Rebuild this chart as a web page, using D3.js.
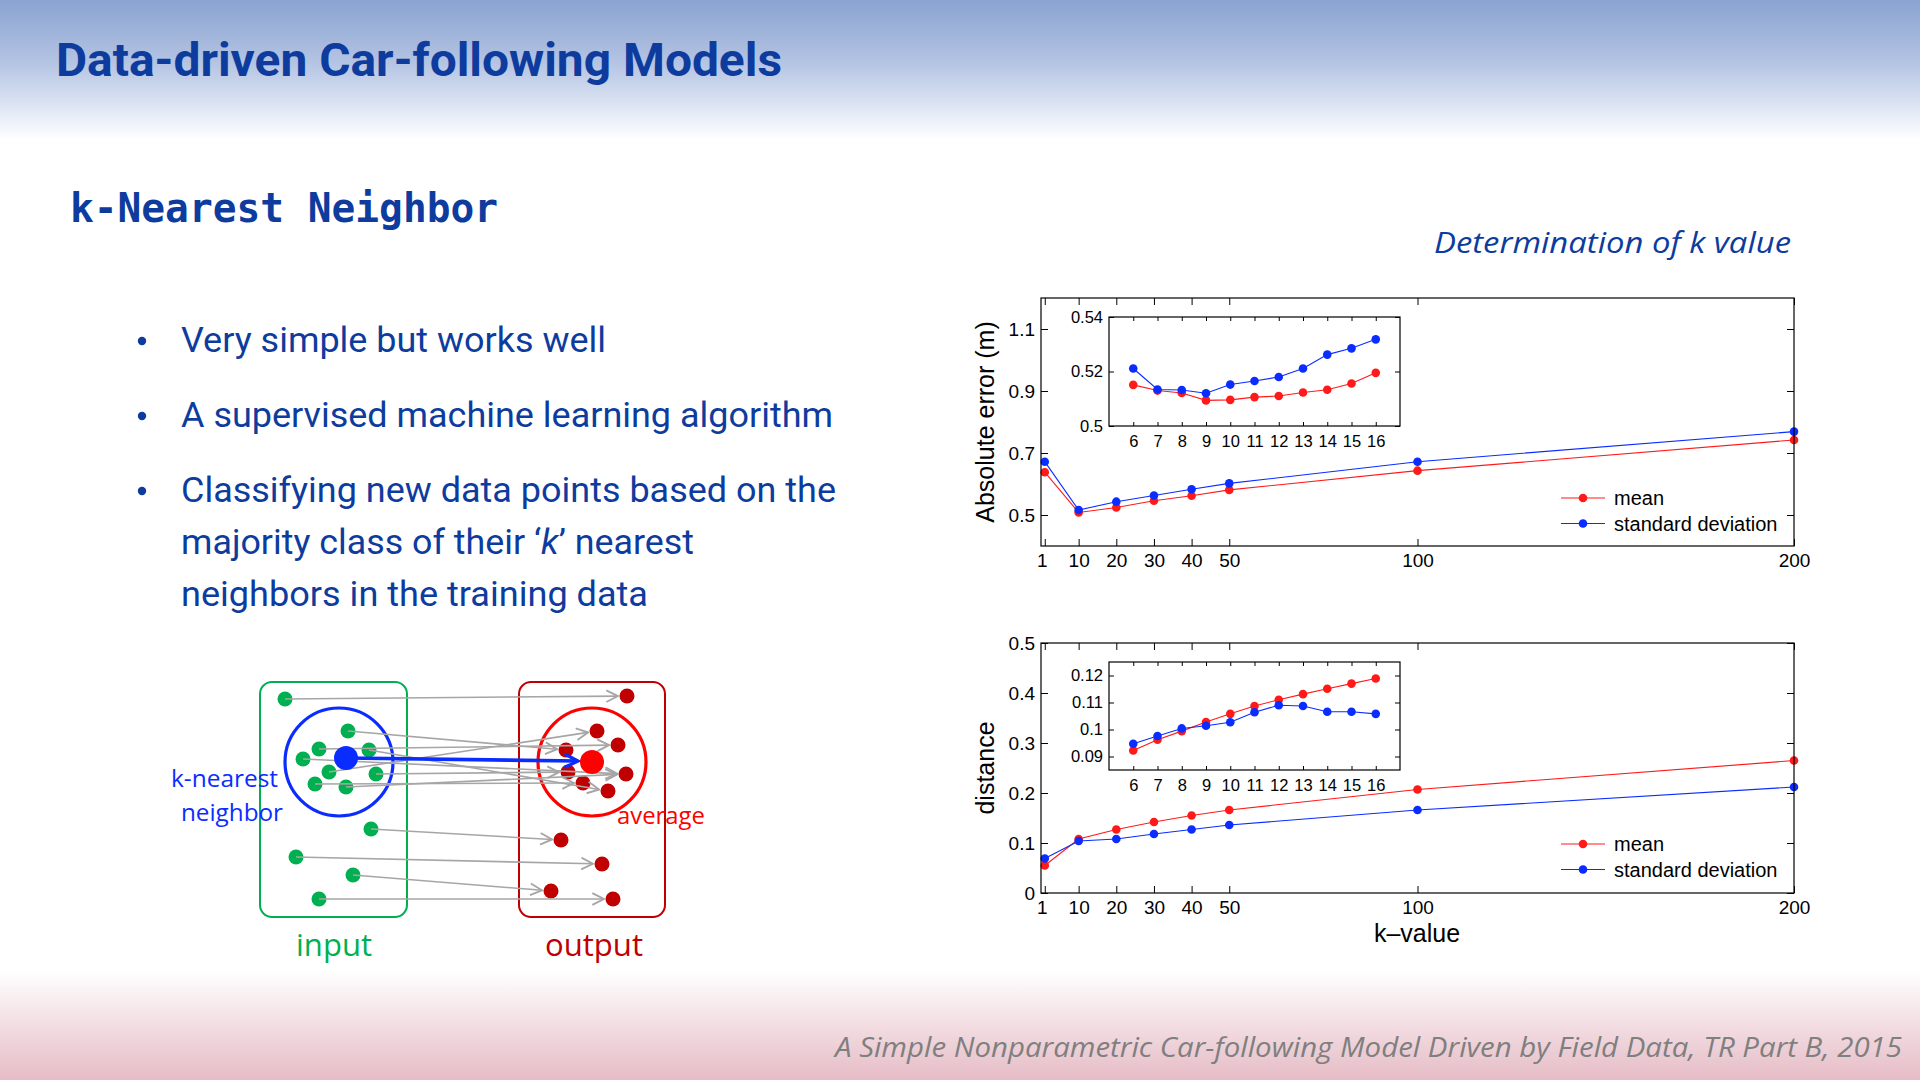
<!DOCTYPE html>
<html>
<head>
<meta charset="utf-8">
<script src="https://cdn.jsdelivr.net/npm/d3@7"></script>
<style>
body { margin: 0; background: #fff; }
</style>
</head>
<body>
<div id="slide"></div>
<script>
// ---------- chart data ----------
var kMain = [1, 10, 20, 30, 40, 50, 100, 200];
var kInset = [6, 7, 8, 9, 10, 11, 12, 13, 14, 15, 16];

// absolute error (m)
var errMean = [0.638, 0.508, 0.524, 0.546, 0.562, 0.581, 0.643, 0.742];
var errStd  = [0.672, 0.516, 0.543, 0.563, 0.583, 0.602, 0.672, 0.769];
var errMeanInset = [0.5151, 0.5130, 0.5121, 0.5094, 0.5096, 0.5106, 0.5110, 0.5123, 0.5133, 0.5156, 0.5195];
var errStdInset  = [0.5211, 0.5134, 0.5132, 0.5120, 0.5152, 0.5165, 0.5180, 0.5211, 0.5262, 0.5285, 0.5318];

// distance
var distMean = [0.055, 0.108, 0.127, 0.142, 0.155, 0.166, 0.207, 0.265];
var distStd  = [0.069, 0.104, 0.108, 0.118, 0.127, 0.136, 0.166, 0.212];
var distMeanInset = [0.0922, 0.0962, 0.0994, 0.1028, 0.1058, 0.1087, 0.1110, 0.1131, 0.1151, 0.1170, 0.1189];
var distStdInset  = [0.0947, 0.0976, 0.1004, 0.1014, 0.1027, 0.1064, 0.1090, 0.1087, 0.1066, 0.1066, 0.1058];

var errTicks = [0.5, 0.7, 0.9, 1.1];
var errInsetTicks = [0.5, 0.52, 0.54];
var distTicks = [0, 0.1, 0.2, 0.3, 0.4, 0.5];
var distInsetTicks = [0.09, 0.1, 0.11, 0.12];
var legendNames = ["mean", "standard deviation"];

var bullets = [
  ["Very simple but works well"],
  ["A supervised machine learning algorithm"],
  ["Classifying new data points based on the", "majority class of their \u2018k\u2019 nearest", "neighbors in the training data"]
];

var RED = "#ff1a1a", BLUE = "#0a2cff", TXT = "#0d3c9e";

var svg = d3.select("#slide").append("svg")
  .attr("width", 1920).attr("height", 1080)
  .style("display", "block");

var defs = svg.append("defs");
var gTop = defs.append("linearGradient").attr("id", "gTop")
  .attr("x1", 0).attr("y1", 0).attr("x2", 0).attr("y2", 1);
gTop.append("stop").attr("offset", "0%").attr("stop-color", "#8aa3d1");
gTop.append("stop").attr("offset", "45%").attr("stop-color", "#b4c4e3");
gTop.append("stop").attr("offset", "100%").attr("stop-color", "#ffffff");
var gBot = defs.append("linearGradient").attr("id", "gBot")
  .attr("x1", 0).attr("y1", 0).attr("x2", 0).attr("y2", 1);
gBot.append("stop").attr("offset", "0%").attr("stop-color", "#ffffff");
gBot.append("stop").attr("offset", "100%").attr("stop-color", "#e6bcc6");

// arrow heads
defs.append("marker").attr("id", "grayHead")
  .attr("viewBox", "0 0 12 12").attr("refX", 11).attr("refY", 6)
  .attr("markerWidth", 14).attr("markerHeight", 14)
  .attr("markerUnits", "userSpaceOnUse").attr("orient", "auto")
  .append("path").attr("d", "M1,1 L11,6 L1,11")
  .attr("fill", "none").attr("stroke", "#a6a6a6").attr("stroke-width", 1.6);
defs.append("marker").attr("id", "blueHead")
  .attr("viewBox", "0 0 12 12").attr("refX", 10).attr("refY", 6)
  .attr("markerWidth", 18).attr("markerHeight", 18)
  .attr("markerUnits", "userSpaceOnUse").attr("orient", "auto")
  .append("path").attr("d", "M1,1.5 L10,6 L1,10.5")
  .attr("fill", "none").attr("stroke", BLUE).attr("stroke-width", 2.2);

// background bands
svg.append("rect").attr("x", 0).attr("y", 0).attr("width", 1920).attr("height", 140)
  .attr("fill", "url(#gTop)");
svg.append("rect").attr("x", 0).attr("y", 970).attr("width", 1920).attr("height", 110)
  .attr("fill", "url(#gBot)");

// ---------- texts ----------
svg.append("text").attr("x", 56).attr("y", 76)
  .attr("font-family", "Roboto").attr("font-weight", "bold").attr("font-size", 46)
  .attr("fill", TXT).attr("textLength", 726).attr("lengthAdjust", "spacingAndGlyphs")
  .text("Data-driven Car-following Models");

svg.append("text").attr("x", 70).attr("y", 222)
  .attr("font-family", "DejaVu Sans Mono").attr("font-weight", "bold").attr("font-size", 40)
  .attr("fill", TXT).attr("textLength", 428).attr("lengthAdjust", "spacingAndGlyphs")
  .text("k-Nearest Neighbor");

var lineBase = [[352], [427], [502, 554, 606]];
var lineLen = [[425], [652], [655, 513, 467]];
bullets.forEach(function (lines, i) {
  svg.append("circle").attr("cx", 142).attr("cy", lineBase[i][0] - 11).attr("r", 4.2).attr("fill", TXT);
  lines.forEach(function (s, j) {
    var t = svg.append("text").attr("x", 181).attr("y", lineBase[i][j])
      .attr("font-family", "Roboto").attr("font-size", 35).attr("fill", TXT)
      .attr("textLength", lineLen[i][j]).attr("lengthAdjust", "spacingAndGlyphs");
    if (s.indexOf("\u2018k\u2019") >= 0) {
      var parts = s.split("k\u2019");
      t.append("tspan").text(parts[0]);
      t.append("tspan").attr("font-style", "italic").text("k");
      t.append("tspan").text("\u2019" + parts[1]);
    } else {
      t.text(s);
    }
  });
});

svg.append("text").attr("x", 1791).attr("y", 253).attr("text-anchor", "end")
  .attr("font-family", "Open Sans").attr("font-style", "italic").attr("font-size", 30)
  .attr("fill", TXT).attr("textLength", 357).attr("lengthAdjust", "spacingAndGlyphs")
  .text("Determination of k value");

svg.append("text").attr("x", 1902).attr("y", 1057).attr("text-anchor", "end")
  .attr("font-family", "Open Sans").attr("font-style", "italic").attr("font-size", 28)
  .attr("fill", "#7f7f7f").attr("textLength", 1067).attr("lengthAdjust", "spacingAndGlyphs")
  .text("A Simple Nonparametric Car-following Model Driven by Field Data, TR Part B, 2015");

// ---------- kNN diagram ----------
var inputDots = [[285,699],[348,731],[319,749],[369,750],[303,759],[329,772],[376,774],
                 [315,784],[346,787],[371,829],[296,857],[353,875],[319,899]];
var outputDots = [[627,696],[597,731],[618,745],[566,750],[568,772],[626,774],[583,783],
                  [608,791],[561,840],[602,864],[551,891],[613,899]];
var links = [[0,0],[1,3],[2,2],[3,7],[4,5],[5,1],[6,4],[7,6],[8,5],[9,8],[10,9],[11,10],[12,11]];

var dg = svg.append("g");
dg.append("rect").attr("x", 260).attr("y", 682).attr("width", 147).attr("height", 235)
  .attr("rx", 12).attr("fill", "none").attr("stroke", "#00b050").attr("stroke-width", 2);
dg.append("rect").attr("x", 519).attr("y", 682).attr("width", 146).attr("height", 235)
  .attr("rx", 12).attr("fill", "none").attr("stroke", "#c00000").attr("stroke-width", 2);

dg.selectAll(".in").data(inputDots).enter().append("circle")
  .attr("cx", d => d[0]).attr("cy", d => d[1]).attr("r", 7.5).attr("fill", "#00b050");
dg.selectAll(".out").data(outputDots).enter().append("circle")
  .attr("cx", d => d[0]).attr("cy", d => d[1]).attr("r", 7.5).attr("fill", "#c00000");

dg.append("circle").attr("cx", 339).attr("cy", 762).attr("r", 54)
  .attr("fill", "none").attr("stroke", BLUE).attr("stroke-width", 3.2);
dg.append("circle").attr("cx", 592).attr("cy", 762).attr("r", 54)
  .attr("fill", "none").attr("stroke", "#ff0000").attr("stroke-width", 3.2);

links.forEach(function (p) {
  var a = inputDots[p[0]], b = outputDots[p[1]];
  var dx = b[0] - a[0], dy = b[1] - a[1], L = Math.sqrt(dx * dx + dy * dy);
  var tx = b[0] - dx / L * 9, ty = b[1] - dy / L * 9;
  dg.append("line").attr("x1", a[0]).attr("y1", a[1]).attr("x2", tx).attr("y2", ty)
    .attr("stroke", "#a6a6a6").attr("stroke-width", 1.6).attr("marker-end", "url(#grayHead)");
});

dg.append("line").attr("x1", 346).attr("y1", 758).attr("x2", 578).attr("y2", 761)
  .attr("stroke", BLUE).attr("stroke-width", 3.6).attr("marker-end", "url(#blueHead)");
dg.append("circle").attr("cx", 346).attr("cy", 758).attr("r", 12).attr("fill", BLUE);
dg.append("circle").attr("cx", 592).attr("cy", 762).attr("r", 12).attr("fill", "#ff0000");

function dText(x, y, s, col, size, len, anchor) {
  dg.append("text").attr("x", x).attr("y", y).attr("text-anchor", anchor || "start")
    .attr("font-family", "Open Sans").attr("font-size", size).attr("fill", col)
    .attr("textLength", len).attr("lengthAdjust", "spacingAndGlyphs").text(s);
}
dText(171, 787, "k-nearest", BLUE, 23, 107);
dText(181, 821, "neighbor", BLUE, 23, 102);
dText(617, 824, "average", "#ff0000", 23, 88);
dText(296, 956, "input", "#00b050", 31, 76);
dText(545, 956, "output", "#c00000", 31, 98);

// ---------- panels ----------
function drawSeries(g, x, y, ks, vals, col, r) {
  var line = d3.line().x((d, i) => x(ks[i])).y(d => y(d));
  g.append("path").datum(vals).attr("d", line)
    .attr("fill", "none").attr("stroke", col).attr("stroke-width", 1.1);
  g.selectAll(null).data(vals).enter().append("circle")
    .attr("cx", (d, i) => x(ks[i])).attr("cy", d => y(d)).attr("r", r).attr("fill", col);
}

function styleAxis(g, size) {
  g.select(".domain").remove();
  g.selectAll("line").attr("stroke", "#000").attr("stroke-width", 1);
  g.selectAll("text").attr("font-family", "Liberation Sans").attr("font-size", size).attr("fill", "#000");
}

var fmt = d => String(+d.toFixed(3));

function panel(c) {
  var g = svg.append("g");
  var x = d3.scaleLinear().domain([0, 200]).range([c.left, c.right]);
  var y = d3.scaleLinear().domain(c.yDomain).range([c.bottom, c.top]);

  g.append("rect").attr("x", c.left).attr("y", c.top)
    .attr("width", c.right - c.left).attr("height", c.bottom - c.top)
    .attr("fill", "#fff");

  var ax = g.append("g").attr("transform", "translate(0," + c.bottom + ")")
    .call(d3.axisBottom(x).tickValues(kMain).tickSize(-7).tickPadding(8).tickSizeOuter(0));
  styleAxis(ax, 19);
  ax.selectAll(".tick text").filter(d => d === 1).attr("dx", -3);
  var axT = g.append("g").attr("transform", "translate(0," + c.top + ")")
    .call(d3.axisTop(x).tickValues(kMain).tickSize(-7).tickFormat("").tickSizeOuter(0));
  styleAxis(axT, 19);
  var ay = g.append("g").attr("transform", "translate(" + c.left + ",0)")
    .call(d3.axisLeft(y).tickValues(c.yTicks).tickFormat(fmt).tickSize(-7).tickPadding(6).tickSizeOuter(0));
  styleAxis(ay, 19);
  var ayR = g.append("g").attr("transform", "translate(" + c.right + ",0)")
    .call(d3.axisRight(y).tickValues(c.yTicks).tickFormat("").tickSize(-7).tickSizeOuter(0));
  styleAxis(ayR, 19);

  drawSeries(g, x, y, kMain, c.mean, RED, 4.3);
  drawSeries(g, x, y, kMain, c.std, BLUE, 4.3);

  g.append("rect").attr("x", c.left).attr("y", c.top)
    .attr("width", c.right - c.left).attr("height", c.bottom - c.top)
    .attr("fill", "none").attr("stroke", "#000").attr("stroke-width", 1.2);

  // inset
  var ib = c.inset;
  var xi = d3.scaleLinear().domain([5, 17]).range([ib.left, ib.right]);
  var yi = d3.scaleLinear().domain(ib.yDomain).range([ib.bottom, ib.top]);
  g.append("rect").attr("x", ib.left).attr("y", ib.top)
    .attr("width", ib.right - ib.left).attr("height", ib.bottom - ib.top).attr("fill", "#fff");
  var ix = g.append("g").attr("transform", "translate(0," + ib.bottom + ")")
    .call(d3.axisBottom(xi).tickValues(kInset).tickSize(-4).tickPadding(9).tickSizeOuter(0));
  styleAxis(ix, 16.5);
  var ixT = g.append("g").attr("transform", "translate(0," + ib.top + ")")
    .call(d3.axisTop(xi).tickValues(kInset).tickSize(-4).tickFormat("").tickSizeOuter(0));
  styleAxis(ixT, 16.5);
  var iy = g.append("g").attr("transform", "translate(" + ib.left + ",0)")
    .call(d3.axisLeft(yi).tickValues(ib.ticks).tickFormat(fmt).tickSize(-5).tickPadding(6).tickSizeOuter(0));
  styleAxis(iy, 16.5);
  var iyR = g.append("g").attr("transform", "translate(" + ib.right + ",0)")
    .call(d3.axisRight(yi).tickValues(ib.ticks).tickFormat("").tickSize(-5).tickSizeOuter(0));
  styleAxis(iyR, 16.5);
  drawSeries(g, xi, yi, kInset, ib.mean, RED, 4.3);
  drawSeries(g, xi, yi, kInset, ib.std, BLUE, 4.3);
  g.append("rect").attr("x", ib.left).attr("y", ib.top)
    .attr("width", ib.right - ib.left).attr("height", ib.bottom - ib.top)
    .attr("fill", "none").attr("stroke", "#000").attr("stroke-width", 1.2);

  // legend
  [RED, BLUE].forEach(function (col, i) {
    var ly = c.legendY + i * 25.5;
    g.append("line").attr("x1", 1561).attr("x2", 1605).attr("y1", ly).attr("y2", ly)
      .attr("stroke", col).attr("stroke-width", 1.1);
    g.append("circle").attr("cx", 1583).attr("cy", ly).attr("r", 4.3).attr("fill", col);
    g.append("text").attr("x", 1614).attr("y", ly + 7)
      .attr("font-family", "Liberation Sans").attr("font-size", 20).attr("fill", "#000")
      .text(legendNames[i]);
  });

  // y label
  g.append("text").attr("transform", "translate(" + 994 + "," + c.labelY + ") rotate(-90)")
    .attr("text-anchor", "middle").attr("font-family", "Liberation Sans").attr("font-size", 25)
    .attr("fill", "#000").text(c.yLabel);
}

panel({
  left: 1041, right: 1794, top: 298, bottom: 546,
  yDomain: [0.4, 1.2], yTicks: errTicks, mean: errMean, std: errStd,
  legendY: 498, yLabel: "Absolute error (m)", labelY: 422,
  inset: { left: 1109, right: 1400, top: 317, bottom: 426, yDomain: [0.5, 0.54],
           ticks: errInsetTicks, mean: errMeanInset, std: errStdInset }
});
panel({
  left: 1041, right: 1794, top: 643, bottom: 893,
  yDomain: [0, 0.5], yTicks: distTicks, mean: distMean, std: distStd,
  legendY: 844, yLabel: "distance", labelY: 768,
  inset: { left: 1109, right: 1400, top: 662, bottom: 770, yDomain: [0.085, 0.125],
           ticks: distInsetTicks, mean: distMeanInset, std: distStdInset }
});

svg.append("text").attr("x", 1417).attr("y", 942).attr("text-anchor", "middle")
  .attr("font-family", "Liberation Sans").attr("font-size", 25).attr("fill", "#000")
  .text("k\u2013value");
</script>
</body>
</html>
